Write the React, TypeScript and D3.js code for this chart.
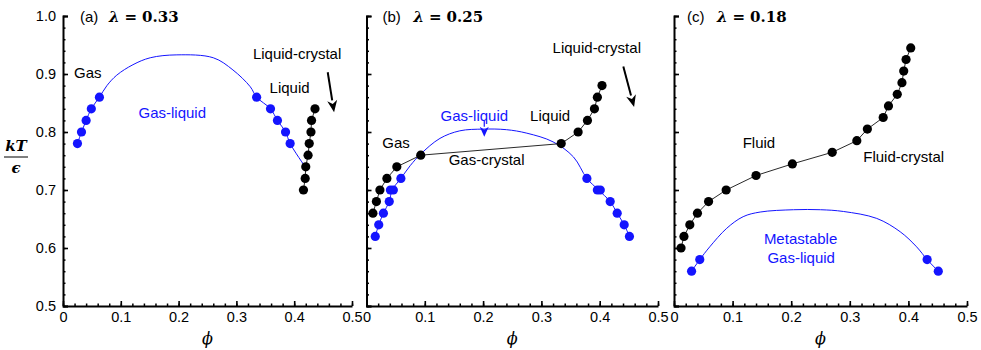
import * as d3 from "d3";
import React, { useEffect, useRef } from "react";

// (a) lambda = 0.33
const gasA = [[0.025, 0.78], [0.032, 0.8], [0.04, 0.82], [0.049, 0.84], [0.063, 0.86]];
const liqA = [[0.335, 0.86], [0.359, 0.84], [0.371, 0.82], [0.385, 0.8], [0.393, 0.78]];
const crystalA = [[0.436, 0.84], [0.43, 0.82], [0.429, 0.8], [0.426, 0.78], [0.424, 0.76], [0.42, 0.74], [0.419, 0.72], [0.416, 0.7]];
const binodalA = [[0.025, 0.78], [0.032, 0.8], [0.04, 0.82], [0.049, 0.84], [0.063, 0.86], [0.076, 0.88], [0.093, 0.898], [0.121, 0.916], [0.151, 0.928], [0.197, 0.933], [0.26, 0.928], [0.294, 0.907], [0.324, 0.878], [0.335, 0.86], [0.359, 0.84], [0.371, 0.82], [0.385, 0.8], [0.393, 0.78], [0.419, 0.74]];

// (b) lambda = 0.25
const gasB = [[0.015, 0.62], [0.021, 0.64], [0.029, 0.66], [0.039, 0.68], [0.041, 0.7], [0.046, 0.7], [0.059, 0.72]];
const liqB = [[0.378, 0.72], [0.396, 0.7], [0.401, 0.7], [0.418, 0.68], [0.43, 0.66], [0.442, 0.64], [0.451, 0.62]];
const crystalB = [[0.011, 0.66], [0.017, 0.68], [0.023, 0.7], [0.035, 0.72], [0.052, 0.74], [0.093, 0.76], [0.334, 0.78], [0.363, 0.8], [0.379, 0.82], [0.391, 0.84], [0.396, 0.86], [0.404, 0.88]];
const binodalB = [[0.015, 0.62], [0.021, 0.64], [0.029, 0.66], [0.039, 0.68], [0.044, 0.7], [0.059, 0.72], [0.075, 0.742], [0.093, 0.762], [0.126, 0.789], [0.16, 0.802], [0.2, 0.805], [0.24, 0.804], [0.275, 0.798], [0.32, 0.783], [0.355, 0.757], [0.378, 0.72], [0.398, 0.7], [0.418, 0.68], [0.43, 0.66], [0.442, 0.64], [0.451, 0.62]];

// (c) lambda = 0.18
const gasC = [[0.03, 0.56], [0.044, 0.58]];
const liqC = [[0.432, 0.58], [0.451, 0.56]];
const crystalC = [[0.012, 0.6], [0.017, 0.62], [0.027, 0.64], [0.04, 0.66], [0.059, 0.68], [0.089, 0.7], [0.14, 0.725], [0.202, 0.745], [0.27, 0.765], [0.312, 0.785], [0.33, 0.805], [0.357, 0.825], [0.366, 0.845], [0.381, 0.865], [0.389, 0.885], [0.392, 0.905], [0.396, 0.925], [0.404, 0.945]];
const binodalC = [[0.03, 0.56], [0.044, 0.58], [0.061, 0.602], [0.09, 0.634], [0.118, 0.654], [0.147, 0.662], [0.204, 0.666], [0.25, 0.666], [0.289, 0.663], [0.346, 0.651], [0.386, 0.628], [0.414, 0.602], [0.432, 0.58], [0.451, 0.56]];

const xTicks = [0, 0.1, 0.2, 0.3, 0.4, 0.5];
const yTicks = [0.5, 0.6, 0.7, 0.8, 0.9, 1.0];

const SANS = "'Liberation Sans', Arial, sans-serif";
const SERIF = "'DejaVu Serif', 'Liberation Serif', serif";
const BLUE = "#1414ff";

const panels = [
  {
    tag: "(a)", lam: "0.33", x0: 63, x1: 352, tagDx: 17, lamDx: 46, yLabels: true,
    gas: gasA, liq: liqA, crystal: crystalA, binodal: binodalA,
    errX: [[0.416, 0.7, 0.008]],
    texts: [
      { t: "Gas", p: [0.043, 0.902], c: "#000" },
      { t: "Gas-liquid", p: [0.189, 0.833], c: BLUE },
      { t: "Liquid", p: [0.392, 0.876], c: "#000" },
      { t: "Liquid-crystal", p: [0.405, 0.936], c: "#000" },
    ],
    arrows: [{ from: [0.458, 0.903], to: [0.469, 0.834], c: "#000", w: 2, hl: 12, hw: 5 }],
  },
  {
    tag: "(b)", lam: "0.25", x0: 366.5, x1: 658, tagDx: 16, lamDx: 47, yLabels: false,
    gas: gasB, liq: liqB, crystal: crystalB, binodal: binodalB,
    errX: [],
    texts: [
      { t: "Liquid-crystal", p: [0.395, 0.945], c: "#000" },
      { t: "Liquid", p: [0.315, 0.829], c: "#000" },
      { t: "Gas-liquid", p: [0.185, 0.829], c: BLUE },
      { t: "Gas", p: [0.0506, 0.781], c: "#000" },
      { t: "Gas-crystal", p: [0.206, 0.752], c: "#000" },
    ],
    arrows: [
      { from: [0.4405, 0.913], to: [0.459, 0.843], c: "#000", w: 2, hl: 12, hw: 5 },
      { from: [0.202, 0.819], to: [0.202, 0.792], c: BLUE, w: 1.2, hl: 10, hw: 4.5 },
    ],
  },
  {
    tag: "(c)", lam: "0.18", x0: 674, x1: 967, tagDx: 13, lamDx: 43, yLabels: false,
    gas: gasC, liq: liqC, crystal: crystalC, binodal: binodalC,
    errX: [],
    texts: [
      { t: "Fluid", p: [0.145, 0.781], c: "#000" },
      { t: "Fluid-crystal", p: [0.392, 0.757], c: "#000" },
      { t: "Metastable", p: [0.216, 0.616], c: BLUE },
      { t: "Gas-liquid", p: [0.217, 0.584], c: BLUE },
    ],
    arrows: [],
  },
];

const App = () => {
  const ref = useRef<SVGSVGElement>(null);

  useEffect(() => {
    const svg = d3.select(ref.current);
    svg.selectAll("*").remove();

    const y = d3.scaleLinear().domain([0.5, 1]).range([306, 16]);
    const minor = d3.range(0, 0.5001, 0.02);
    const minorY = d3.range(0.5, 1.0001, 0.02);

    panels.forEach((p) => {
      const x = d3.scaleLinear().domain([0, 0.5]).range([p.x0, p.x1]);
      const g = svg.append("g");

      // minor ticks
      const mx = g.append("g").attr("transform", `translate(0,${y(0.5)})`)
        .call(d3.axisBottom(x).tickValues(minor).tickSize(-2.5).tickFormat(() => ""));
      mx.select(".domain").remove();
      const my = g.append("g").attr("transform", `translate(${p.x0},0)`)
        .call(d3.axisLeft(y).tickValues(minorY).tickSize(-2.5).tickFormat(() => ""));
      my.select(".domain").remove();
      g.selectAll(".tick line").attr("stroke", "#000").attr("stroke-width", 1.5);

      // major axes
      const xa = g.append("g").attr("transform", `translate(0,${y(0.5)})`)
        .call(d3.axisBottom(x).tickValues(xTicks).tickSize(-5).tickSizeOuter(0).tickPadding(6)
          .tickFormat((d: any) => (d === 0 ? "0" : d3.format(".1f")(d))));
      const ya = g.append("g").attr("transform", `translate(${p.x0},0)`)
        .call(d3.axisLeft(y).tickValues(yTicks).tickSize(-5).tickSizeOuter(-5).tickPadding(7)
          .tickFormat((d: any) => (p.yLabels ? d3.format(".1f")(d) : "")));
      [xa, ya].forEach((a) => {
        a.attr("font-family", SANS).attr("font-size", 14.5);
        a.select(".domain").attr("stroke", "#000").attr("stroke-width", 2);
        a.selectAll(".tick line").attr("stroke", "#000").attr("stroke-width", 1.6);
        a.selectAll("text").attr("fill", "#000");
      });

      // binodal (blue curve)
      const line = d3.line().x((d: any) => x(d[0])).y((d: any) => y(d[1]));
      g.append("path").datum(p.binodal as any)
        .attr("d", line.curve(d3.curveCatmullRom.alpha(0.5)) as any)
        .attr("fill", "none").attr("stroke", BLUE).attr("stroke-width", 1);

      // crystal line
      g.append("path").datum(p.crystal as any)
        .attr("d", d3.line().x((d: any) => x(d[0])).y((d: any) => y(d[1])) as any)
        .attr("fill", "none").attr("stroke", "#111").attr("stroke-width", 0.9);

      // error bars
      p.errX.forEach((e) => {
        g.append("line").attr("x1", x(e[0] - e[2])).attr("x2", x(e[0] + e[2]))
          .attr("y1", y(e[1])).attr("y2", y(e[1])).attr("stroke", "#777").attr("stroke-width", 1.2);
      });

      g.selectAll(".blue").data([...p.gas, ...p.liq]).enter().append("circle")
        .attr("cx", (d) => x(d[0])).attr("cy", (d) => y(d[1])).attr("r", 4.6).attr("fill", BLUE);
      g.selectAll(".black").data(p.crystal).enter().append("circle")
        .attr("cx", (d) => x(d[0])).attr("cy", (d) => y(d[1])).attr("r", 4.6).attr("fill", "#000");

      // text labels
      p.texts.forEach((t) => {
        g.append("text").attr("x", x(t.p[0])).attr("y", y(t.p[1]))
          .attr("text-anchor", "middle").attr("dy", "0.36em")
          .attr("font-family", SANS).attr("font-size", 15).attr("fill", t.c).text(t.t);
      });

      // arrows
      p.arrows.forEach((a) => {
        const x1 = x(a.from[0]), y1 = y(a.from[1]), x2 = x(a.to[0]), y2 = y(a.to[1]);
        const ang = Math.atan2(y2 - y1, x2 - x1);
        const bx = x2 - a.hl * Math.cos(ang), by = y2 - a.hl * Math.sin(ang);
        g.append("line").attr("x1", x1).attr("y1", y1).attr("x2", bx).attr("y2", by)
          .attr("stroke", a.c).attr("stroke-width", a.w);
        const nx = -Math.sin(ang) * a.hw, ny = Math.cos(ang) * a.hw;
        g.append("path")
          .attr("d", `M${x2},${y2}L${bx + nx},${by + ny}L${bx + 0.3 * a.hl * Math.cos(ang)},${by + 0.3 * a.hl * Math.sin(ang)}L${bx - nx},${by - ny}Z`)
          .attr("fill", a.c);
      });

      // panel title
      const title = g.append("text").attr("y", 22).attr("fill", "#000");
      title.append("tspan").attr("x", p.x0 + p.tagDx).attr("font-family", SANS).attr("font-size", 15).text(p.tag);
      const lam = g.append("text").attr("x", p.x0 + p.lamDx).attr("y", 22).attr("fill", "#000")
        .attr("font-family", SERIF).attr("font-weight", "bold").attr("font-size", 15);
      lam.append("tspan").attr("font-style", "italic").text("λ");
      lam.append("tspan").attr("dx", 5).text("=");
      lam.append("tspan").attr("dx", 5).text(p.lam);

      // x label
      g.append("text").attr("x", (p.x0 + p.x1) / 2).attr("y", 344).attr("text-anchor", "middle")
        .attr("font-family", SERIF).attr("font-style", "italic").attr("font-size", 16).text("ϕ");
    });

    // y label kT / epsilon
    const yl = svg.append("g").attr("font-family", SERIF).attr("font-style", "italic").attr("font-weight", "bold");
    yl.append("text").attr("x", 16).attr("y", 151).attr("text-anchor", "middle").attr("font-size", 15).text("kT");
    yl.append("line").attr("x1", 4).attr("x2", 28).attr("y1", 157).attr("y2", 157).attr("stroke", "#000").attr("stroke-width", 1);
    yl.append("text").attr("x", 16).attr("y", 173).attr("text-anchor", "middle").attr("font-size", 15).text("ϵ");
  }, []);

  return <svg ref={ref} width={981} height={350} style={{ position: "absolute", left: 0, top: 0 }}></svg>;
};

export default App;
